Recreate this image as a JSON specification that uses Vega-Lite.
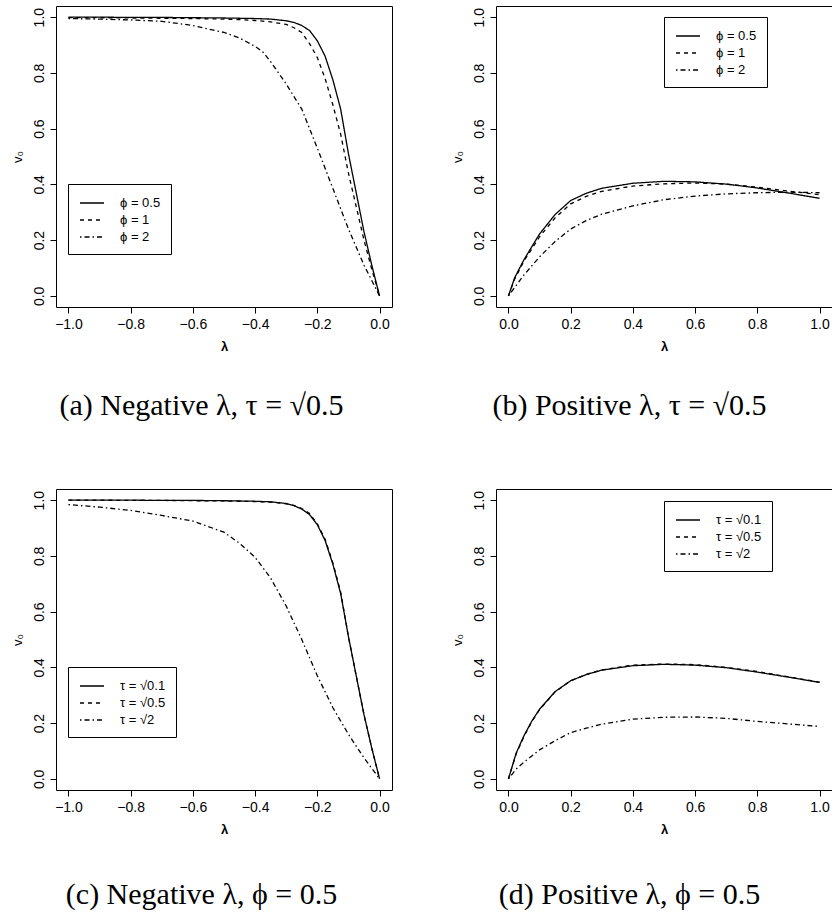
{
  "$schema": "https://vega.github.io/schema/vega-lite/v6.json",
  "padding": {"left": 10, "top": 5, "right": 0, "bottom": 0},
  "background": "white",
  "columns": 2,
  "spacing": {"row": 182, "column": 104},
  "bounds": "flush",
  "datasets": {
    "a": [
      {"lam": -1, "v": 1.0, "s": "ϕ = 0.5"}, {"lam": -0.9, "v": 1.0, "s": "ϕ = 0.5"}, {"lam": -0.8, "v": 0.999, "s": "ϕ = 0.5"}, {"lam": -0.7, "v": 0.999, "s": "ϕ = 0.5"}, {"lam": -0.6, "v": 0.998, "s": "ϕ = 0.5"}, {"lam": -0.5, "v": 0.997, "s": "ϕ = 0.5"}, {"lam": -0.45, "v": 0.996, "s": "ϕ = 0.5"}, {"lam": -0.4, "v": 0.995, "s": "ϕ = 0.5"}, {"lam": -0.35, "v": 0.993, "s": "ϕ = 0.5"}, {"lam": -0.3, "v": 0.987, "s": "ϕ = 0.5"}, {"lam": -0.275, "v": 0.981, "s": "ϕ = 0.5"}, {"lam": -0.25, "v": 0.97, "s": "ϕ = 0.5"}, {"lam": -0.225, "v": 0.952, "s": "ϕ = 0.5"}, {"lam": -0.2, "v": 0.915, "s": "ϕ = 0.5"}, {"lam": -0.175, "v": 0.86, "s": "ϕ = 0.5"}, {"lam": -0.15, "v": 0.775, "s": "ϕ = 0.5"}, {"lam": -0.125, "v": 0.67, "s": "ϕ = 0.5"}, {"lam": -0.1, "v": 0.51, "s": "ϕ = 0.5"}, {"lam": -0.075, "v": 0.37, "s": "ϕ = 0.5"}, {"lam": -0.05, "v": 0.23, "s": "ϕ = 0.5"}, {"lam": -0.025, "v": 0.11, "s": "ϕ = 0.5"}, {"lam": 0, "v": 0, "s": "ϕ = 0.5"},
      {"lam": -1, "v": 0.998, "s": "ϕ = 1"}, {"lam": -0.9, "v": 0.998, "s": "ϕ = 1"}, {"lam": -0.8, "v": 0.997, "s": "ϕ = 1"}, {"lam": -0.7, "v": 0.996, "s": "ϕ = 1"}, {"lam": -0.6, "v": 0.995, "s": "ϕ = 1"}, {"lam": -0.5, "v": 0.993, "s": "ϕ = 1"}, {"lam": -0.45, "v": 0.991, "s": "ϕ = 1"}, {"lam": -0.4, "v": 0.988, "s": "ϕ = 1"}, {"lam": -0.35, "v": 0.983, "s": "ϕ = 1"}, {"lam": -0.3, "v": 0.974, "s": "ϕ = 1"}, {"lam": -0.275, "v": 0.962, "s": "ϕ = 1"}, {"lam": -0.25, "v": 0.945, "s": "ϕ = 1"}, {"lam": -0.225, "v": 0.905, "s": "ϕ = 1"}, {"lam": -0.2, "v": 0.855, "s": "ϕ = 1"}, {"lam": -0.175, "v": 0.78, "s": "ϕ = 1"}, {"lam": -0.15, "v": 0.685, "s": "ϕ = 1"}, {"lam": -0.125, "v": 0.58, "s": "ϕ = 1"}, {"lam": -0.1, "v": 0.44, "s": "ϕ = 1"}, {"lam": -0.075, "v": 0.32, "s": "ϕ = 1"}, {"lam": -0.05, "v": 0.2, "s": "ϕ = 1"}, {"lam": -0.025, "v": 0.095, "s": "ϕ = 1"}, {"lam": 0, "v": 0, "s": "ϕ = 1"},
      {"lam": -1, "v": 0.995, "s": "ϕ = 2"}, {"lam": -0.9, "v": 0.993, "s": "ϕ = 2"}, {"lam": -0.8, "v": 0.99, "s": "ϕ = 2"}, {"lam": -0.7, "v": 0.985, "s": "ϕ = 2"}, {"lam": -0.6, "v": 0.97, "s": "ϕ = 2"}, {"lam": -0.5, "v": 0.945, "s": "ϕ = 2"}, {"lam": -0.45, "v": 0.925, "s": "ϕ = 2"}, {"lam": -0.4, "v": 0.895, "s": "ϕ = 2"}, {"lam": -0.375, "v": 0.875, "s": "ϕ = 2"}, {"lam": -0.35, "v": 0.84, "s": "ϕ = 2"}, {"lam": -0.3, "v": 0.76, "s": "ϕ = 2"}, {"lam": -0.25, "v": 0.67, "s": "ϕ = 2"}, {"lam": -0.2, "v": 0.53, "s": "ϕ = 2"}, {"lam": -0.15, "v": 0.385, "s": "ϕ = 2"}, {"lam": -0.1, "v": 0.24, "s": "ϕ = 2"}, {"lam": -0.05, "v": 0.11, "s": "ϕ = 2"}, {"lam": 0, "v": 0, "s": "ϕ = 2"}
    ],
    "b": [
      {"lam": 0, "v": 0, "s": "ϕ = 0.5"}, {"lam": 0.02, "v": 0.065, "s": "ϕ = 0.5"}, {"lam": 0.05, "v": 0.13, "s": "ϕ = 0.5"}, {"lam": 0.1, "v": 0.222, "s": "ϕ = 0.5"}, {"lam": 0.15, "v": 0.292, "s": "ϕ = 0.5"}, {"lam": 0.2, "v": 0.342, "s": "ϕ = 0.5"}, {"lam": 0.25, "v": 0.368, "s": "ϕ = 0.5"}, {"lam": 0.3, "v": 0.386, "s": "ϕ = 0.5"}, {"lam": 0.4, "v": 0.404, "s": "ϕ = 0.5"}, {"lam": 0.5, "v": 0.411, "s": "ϕ = 0.5"}, {"lam": 0.6, "v": 0.409, "s": "ϕ = 0.5"}, {"lam": 0.7, "v": 0.401, "s": "ϕ = 0.5"}, {"lam": 0.8, "v": 0.387, "s": "ϕ = 0.5"}, {"lam": 0.9, "v": 0.369, "s": "ϕ = 0.5"}, {"lam": 1.0, "v": 0.35, "s": "ϕ = 0.5"},
      {"lam": 0, "v": 0, "s": "ϕ = 1"}, {"lam": 0.02, "v": 0.06, "s": "ϕ = 1"}, {"lam": 0.05, "v": 0.125, "s": "ϕ = 1"}, {"lam": 0.1, "v": 0.212, "s": "ϕ = 1"}, {"lam": 0.15, "v": 0.28, "s": "ϕ = 1"}, {"lam": 0.2, "v": 0.33, "s": "ϕ = 1"}, {"lam": 0.25, "v": 0.357, "s": "ϕ = 1"}, {"lam": 0.3, "v": 0.375, "s": "ϕ = 1"}, {"lam": 0.4, "v": 0.394, "s": "ϕ = 1"}, {"lam": 0.5, "v": 0.402, "s": "ϕ = 1"}, {"lam": 0.6, "v": 0.405, "s": "ϕ = 1"}, {"lam": 0.7, "v": 0.401, "s": "ϕ = 1"}, {"lam": 0.8, "v": 0.39, "s": "ϕ = 1"}, {"lam": 0.9, "v": 0.376, "s": "ϕ = 1"}, {"lam": 1.0, "v": 0.363, "s": "ϕ = 1"},
      {"lam": 0, "v": 0, "s": "ϕ = 2"}, {"lam": 0.02, "v": 0.03, "s": "ϕ = 2"}, {"lam": 0.05, "v": 0.075, "s": "ϕ = 2"}, {"lam": 0.1, "v": 0.14, "s": "ϕ = 2"}, {"lam": 0.15, "v": 0.195, "s": "ϕ = 2"}, {"lam": 0.2, "v": 0.24, "s": "ϕ = 2"}, {"lam": 0.25, "v": 0.27, "s": "ϕ = 2"}, {"lam": 0.3, "v": 0.293, "s": "ϕ = 2"}, {"lam": 0.4, "v": 0.323, "s": "ϕ = 2"}, {"lam": 0.5, "v": 0.345, "s": "ϕ = 2"}, {"lam": 0.6, "v": 0.358, "s": "ϕ = 2"}, {"lam": 0.7, "v": 0.366, "s": "ϕ = 2"}, {"lam": 0.8, "v": 0.37, "s": "ϕ = 2"}, {"lam": 0.9, "v": 0.372, "s": "ϕ = 2"}, {"lam": 1.0, "v": 0.37, "s": "ϕ = 2"}
    ],
    "c": [
      {"lam": -1, "v": 1.0, "s": "τ = √0.1"}, {"lam": -0.9, "v": 1.0, "s": "τ = √0.1"}, {"lam": -0.8, "v": 1.0, "s": "τ = √0.1"}, {"lam": -0.7, "v": 0.999, "s": "τ = √0.1"}, {"lam": -0.6, "v": 0.999, "s": "τ = √0.1"}, {"lam": -0.5, "v": 0.998, "s": "τ = √0.1"}, {"lam": -0.45, "v": 0.997, "s": "τ = √0.1"}, {"lam": -0.4, "v": 0.996, "s": "τ = √0.1"}, {"lam": -0.35, "v": 0.994, "s": "τ = √0.1"}, {"lam": -0.3, "v": 0.988, "s": "τ = √0.1"}, {"lam": -0.275, "v": 0.98, "s": "τ = √0.1"}, {"lam": -0.25, "v": 0.968, "s": "τ = √0.1"}, {"lam": -0.225, "v": 0.948, "s": "τ = √0.1"}, {"lam": -0.2, "v": 0.912, "s": "τ = √0.1"}, {"lam": -0.175, "v": 0.855, "s": "τ = √0.1"}, {"lam": -0.15, "v": 0.77, "s": "τ = √0.1"}, {"lam": -0.125, "v": 0.665, "s": "τ = √0.1"}, {"lam": -0.1, "v": 0.51, "s": "τ = √0.1"}, {"lam": -0.075, "v": 0.37, "s": "τ = √0.1"}, {"lam": -0.05, "v": 0.23, "s": "τ = √0.1"}, {"lam": -0.025, "v": 0.11, "s": "τ = √0.1"}, {"lam": 0, "v": 0, "s": "τ = √0.1"},
      {"lam": -1, "v": 1.0, "s": "τ = √0.5"}, {"lam": -0.9, "v": 1.0, "s": "τ = √0.5"}, {"lam": -0.8, "v": 0.999, "s": "τ = √0.5"}, {"lam": -0.7, "v": 0.999, "s": "τ = √0.5"}, {"lam": -0.6, "v": 0.998, "s": "τ = √0.5"}, {"lam": -0.5, "v": 0.997, "s": "τ = √0.5"}, {"lam": -0.45, "v": 0.996, "s": "τ = √0.5"}, {"lam": -0.4, "v": 0.995, "s": "τ = √0.5"}, {"lam": -0.35, "v": 0.993, "s": "τ = √0.5"}, {"lam": -0.3, "v": 0.987, "s": "τ = √0.5"}, {"lam": -0.275, "v": 0.981, "s": "τ = √0.5"}, {"lam": -0.25, "v": 0.97, "s": "τ = √0.5"}, {"lam": -0.225, "v": 0.952, "s": "τ = √0.5"}, {"lam": -0.2, "v": 0.915, "s": "τ = √0.5"}, {"lam": -0.175, "v": 0.86, "s": "τ = √0.5"}, {"lam": -0.15, "v": 0.775, "s": "τ = √0.5"}, {"lam": -0.125, "v": 0.67, "s": "τ = √0.5"}, {"lam": -0.1, "v": 0.51, "s": "τ = √0.5"}, {"lam": -0.075, "v": 0.37, "s": "τ = √0.5"}, {"lam": -0.05, "v": 0.23, "s": "τ = √0.5"}, {"lam": -0.025, "v": 0.11, "s": "τ = √0.5"}, {"lam": 0, "v": 0, "s": "τ = √0.5"},
      {"lam": -1, "v": 0.984, "s": "τ = √2"}, {"lam": -0.9, "v": 0.975, "s": "τ = √2"}, {"lam": -0.8, "v": 0.963, "s": "τ = √2"}, {"lam": -0.7, "v": 0.945, "s": "τ = √2"}, {"lam": -0.6, "v": 0.925, "s": "τ = √2"}, {"lam": -0.5, "v": 0.885, "s": "τ = √2"}, {"lam": -0.45, "v": 0.845, "s": "τ = √2"}, {"lam": -0.4, "v": 0.795, "s": "τ = √2"}, {"lam": -0.35, "v": 0.72, "s": "τ = √2"}, {"lam": -0.3, "v": 0.62, "s": "τ = √2"}, {"lam": -0.25, "v": 0.5, "s": "τ = √2"}, {"lam": -0.2, "v": 0.37, "s": "τ = √2"}, {"lam": -0.15, "v": 0.255, "s": "τ = √2"}, {"lam": -0.1, "v": 0.16, "s": "τ = √2"}, {"lam": -0.05, "v": 0.075, "s": "τ = √2"}, {"lam": 0, "v": 0, "s": "τ = √2"}
    ],
    "d": [
      {"lam": 0, "v": 0, "s": "τ = √0.1"}, {"lam": 0.025, "v": 0.093, "s": "τ = √0.1"}, {"lam": 0.05, "v": 0.155, "s": "τ = √0.1"}, {"lam": 0.075, "v": 0.207, "s": "τ = √0.1"}, {"lam": 0.1, "v": 0.25, "s": "τ = √0.1"}, {"lam": 0.15, "v": 0.313, "s": "τ = √0.1"}, {"lam": 0.2, "v": 0.352, "s": "τ = √0.1"}, {"lam": 0.25, "v": 0.374, "s": "τ = √0.1"}, {"lam": 0.3, "v": 0.39, "s": "τ = √0.1"}, {"lam": 0.4, "v": 0.406, "s": "τ = √0.1"}, {"lam": 0.5, "v": 0.411, "s": "τ = √0.1"}, {"lam": 0.6, "v": 0.408, "s": "τ = √0.1"}, {"lam": 0.7, "v": 0.399, "s": "τ = √0.1"}, {"lam": 0.8, "v": 0.383, "s": "τ = √0.1"}, {"lam": 0.9, "v": 0.365, "s": "τ = √0.1"}, {"lam": 1.0, "v": 0.346, "s": "τ = √0.1"},
      {"lam": 0, "v": 0, "s": "τ = √0.5"}, {"lam": 0.025, "v": 0.09, "s": "τ = √0.5"}, {"lam": 0.05, "v": 0.152, "s": "τ = √0.5"}, {"lam": 0.075, "v": 0.205, "s": "τ = √0.5"}, {"lam": 0.1, "v": 0.248, "s": "τ = √0.5"}, {"lam": 0.15, "v": 0.312, "s": "τ = √0.5"}, {"lam": 0.2, "v": 0.352, "s": "τ = √0.5"}, {"lam": 0.25, "v": 0.375, "s": "τ = √0.5"}, {"lam": 0.3, "v": 0.391, "s": "τ = √0.5"}, {"lam": 0.4, "v": 0.408, "s": "τ = √0.5"}, {"lam": 0.5, "v": 0.412, "s": "τ = √0.5"}, {"lam": 0.6, "v": 0.41, "s": "τ = √0.5"}, {"lam": 0.7, "v": 0.4, "s": "τ = √0.5"}, {"lam": 0.8, "v": 0.385, "s": "τ = √0.5"}, {"lam": 0.9, "v": 0.366, "s": "τ = √0.5"}, {"lam": 1.0, "v": 0.347, "s": "τ = √0.5"},
      {"lam": 0, "v": 0, "s": "τ = √2"}, {"lam": 0.025, "v": 0.035, "s": "τ = √2"}, {"lam": 0.05, "v": 0.06, "s": "τ = √2"}, {"lam": 0.1, "v": 0.104, "s": "τ = √2"}, {"lam": 0.15, "v": 0.137, "s": "τ = √2"}, {"lam": 0.2, "v": 0.166, "s": "τ = √2"}, {"lam": 0.25, "v": 0.182, "s": "τ = √2"}, {"lam": 0.3, "v": 0.196, "s": "τ = √2"}, {"lam": 0.4, "v": 0.214, "s": "τ = √2"}, {"lam": 0.5, "v": 0.221, "s": "τ = √2"}, {"lam": 0.6, "v": 0.222, "s": "τ = √2"}, {"lam": 0.7, "v": 0.217, "s": "τ = √2"}, {"lam": 0.8, "v": 0.206, "s": "τ = √2"}, {"lam": 0.9, "v": 0.197, "s": "τ = √2"}, {"lam": 1.0, "v": 0.188, "s": "τ = √2"}
    ]
  },
  "concat": [
    {
      "width": 336, "height": 301,
      "data": {"name": "a"},
      "mark": {"type": "line", "color": "black", "strokeWidth": 1.3},
      "encoding": {
        "x": {"field": "lam", "type": "quantitative", "scale": {"domain": [-1.04, 0.04], "nice": false, "zero": false}, "axis": {"values": [-1, -0.8, -0.6, -0.4, -0.2, 0], "format": ".1f", "title": "λ"}},
        "y": {"field": "v", "type": "quantitative", "scale": {"domain": [-0.04, 1.04], "nice": false, "zero": false}, "axis": {"values": [0, 0.2, 0.4, 0.6, 0.8, 1], "format": ".1f", "title": "v₀"}},
        "strokeDash": {"field": "s", "type": "nominal", "scale": {"domain": ["ϕ = 0.5", "ϕ = 1", "ϕ = 2"], "range": [[1, 0], [4, 4], [1.5, 3, 5, 3]]}, "legend": {"orient": "none", "legendX": 12, "legendY": 178}}
      },
      "title": {"text": "(a) Negative λ, τ = √0.5"}
    },
    {
      "width": 336, "height": 301,
      "data": {"name": "b"},
      "mark": {"type": "line", "color": "black", "strokeWidth": 1.3},
      "encoding": {
        "x": {"field": "lam", "type": "quantitative", "scale": {"domain": [-0.04, 1.04], "nice": false, "zero": false}, "axis": {"values": [0, 0.2, 0.4, 0.6, 0.8, 1], "format": ".1f", "title": "λ"}},
        "y": {"field": "v", "type": "quantitative", "scale": {"domain": [-0.04, 1.04], "nice": false, "zero": false}, "axis": {"values": [0, 0.2, 0.4, 0.6, 0.8, 1], "format": ".1f", "title": "v₀"}},
        "strokeDash": {"field": "s", "type": "nominal", "scale": {"domain": ["ϕ = 0.5", "ϕ = 1", "ϕ = 2"], "range": [[1, 0], [4, 4], [1.5, 3, 5, 3]]}, "legend": {"orient": "none", "legendX": 168, "legendY": 11}}
      },
      "title": {"text": "(b) Positive λ, τ = √0.5", "dx": -12}
    },
    {
      "width": 336, "height": 301,
      "data": {"name": "c"},
      "mark": {"type": "line", "color": "black", "strokeWidth": 1.3},
      "encoding": {
        "x": {"field": "lam", "type": "quantitative", "scale": {"domain": [-1.04, 0.04], "nice": false, "zero": false}, "axis": {"values": [-1, -0.8, -0.6, -0.4, -0.2, 0], "format": ".1f", "title": "λ"}},
        "y": {"field": "v", "type": "quantitative", "scale": {"domain": [-0.04, 1.04], "nice": false, "zero": false}, "axis": {"values": [0, 0.2, 0.4, 0.6, 0.8, 1], "format": ".1f", "title": "v₀"}},
        "strokeDash": {"field": "s", "type": "nominal", "scale": {"domain": ["τ = √0.1", "τ = √0.5", "τ = √2"], "range": [[1, 0], [4, 4], [1.5, 3, 5, 3]]}, "legend": {"orient": "none", "legendX": 12, "legendY": 178}}
      },
      "title": {"text": "(c) Negative λ, ϕ = 0.5", "offset": 44}
    },
    {
      "width": 336, "height": 301,
      "data": {"name": "d"},
      "mark": {"type": "line", "color": "black", "strokeWidth": 1.3},
      "encoding": {
        "x": {"field": "lam", "type": "quantitative", "scale": {"domain": [-0.04, 1.04], "nice": false, "zero": false}, "axis": {"values": [0, 0.2, 0.4, 0.6, 0.8, 1], "format": ".1f", "title": "λ"}},
        "y": {"field": "v", "type": "quantitative", "scale": {"domain": [-0.04, 1.04], "nice": false, "zero": false}, "axis": {"values": [0, 0.2, 0.4, 0.6, 0.8, 1], "format": ".1f", "title": "v₀"}},
        "strokeDash": {"field": "s", "type": "nominal", "scale": {"domain": ["τ = √0.1", "τ = √0.5", "τ = √2"], "range": [[1, 0], [4, 4], [1.5, 3, 5, 3]]}, "legend": {"orient": "none", "legendX": 168, "legendY": 12}}
      },
      "title": {"text": "(d) Positive λ, ϕ = 0.5", "dx": -12, "offset": 44}
    }
  ],
  "resolve": {"scale": {"strokeDash": "independent"}, "legend": {"strokeDash": "independent"}},
  "config": {
    "view": {"stroke": "black", "strokeWidth": 1},
    "axis": {"domain": false, "grid": false, "ticks": true, "tickColor": "black", "tickSize": 6, "labelFont": "Liberation Sans", "labelFontSize": 14, "labelColor": "black", "labelPadding": 4, "titleFont": "Liberation Sans", "titleFontSize": 13, "titleColor": "black"},
    "axisX": {"titleFontWeight": "bold", "titlePadding": 9},
    "axisY": {"labelAngle": -90, "labelAlign": "center", "labelBaseline": "bottom", "titleFontWeight": "normal", "titlePadding": 8},
    "legend": {"title": null, "strokeColor": "black", "fillColor": "white", "padding": 10, "cornerRadius": 0, "symbolType": "M-1.5,0H1.5", "symbolSize": 256, "symbolOffset": 5, "symbolStrokeWidth": 1.3, "symbolStrokeColor": "black", "labelFont": "Liberation Sans", "labelFontSize": 13, "labelColor": "black", "labelOffset": 19, "rowPadding": 1},
    "title": {"orient": "bottom", "frame": "bounds", "anchor": "middle", "font": "Liberation Serif", "fontSize": 30, "fontWeight": "normal", "color": "black", "offset": 38}
  }
}
